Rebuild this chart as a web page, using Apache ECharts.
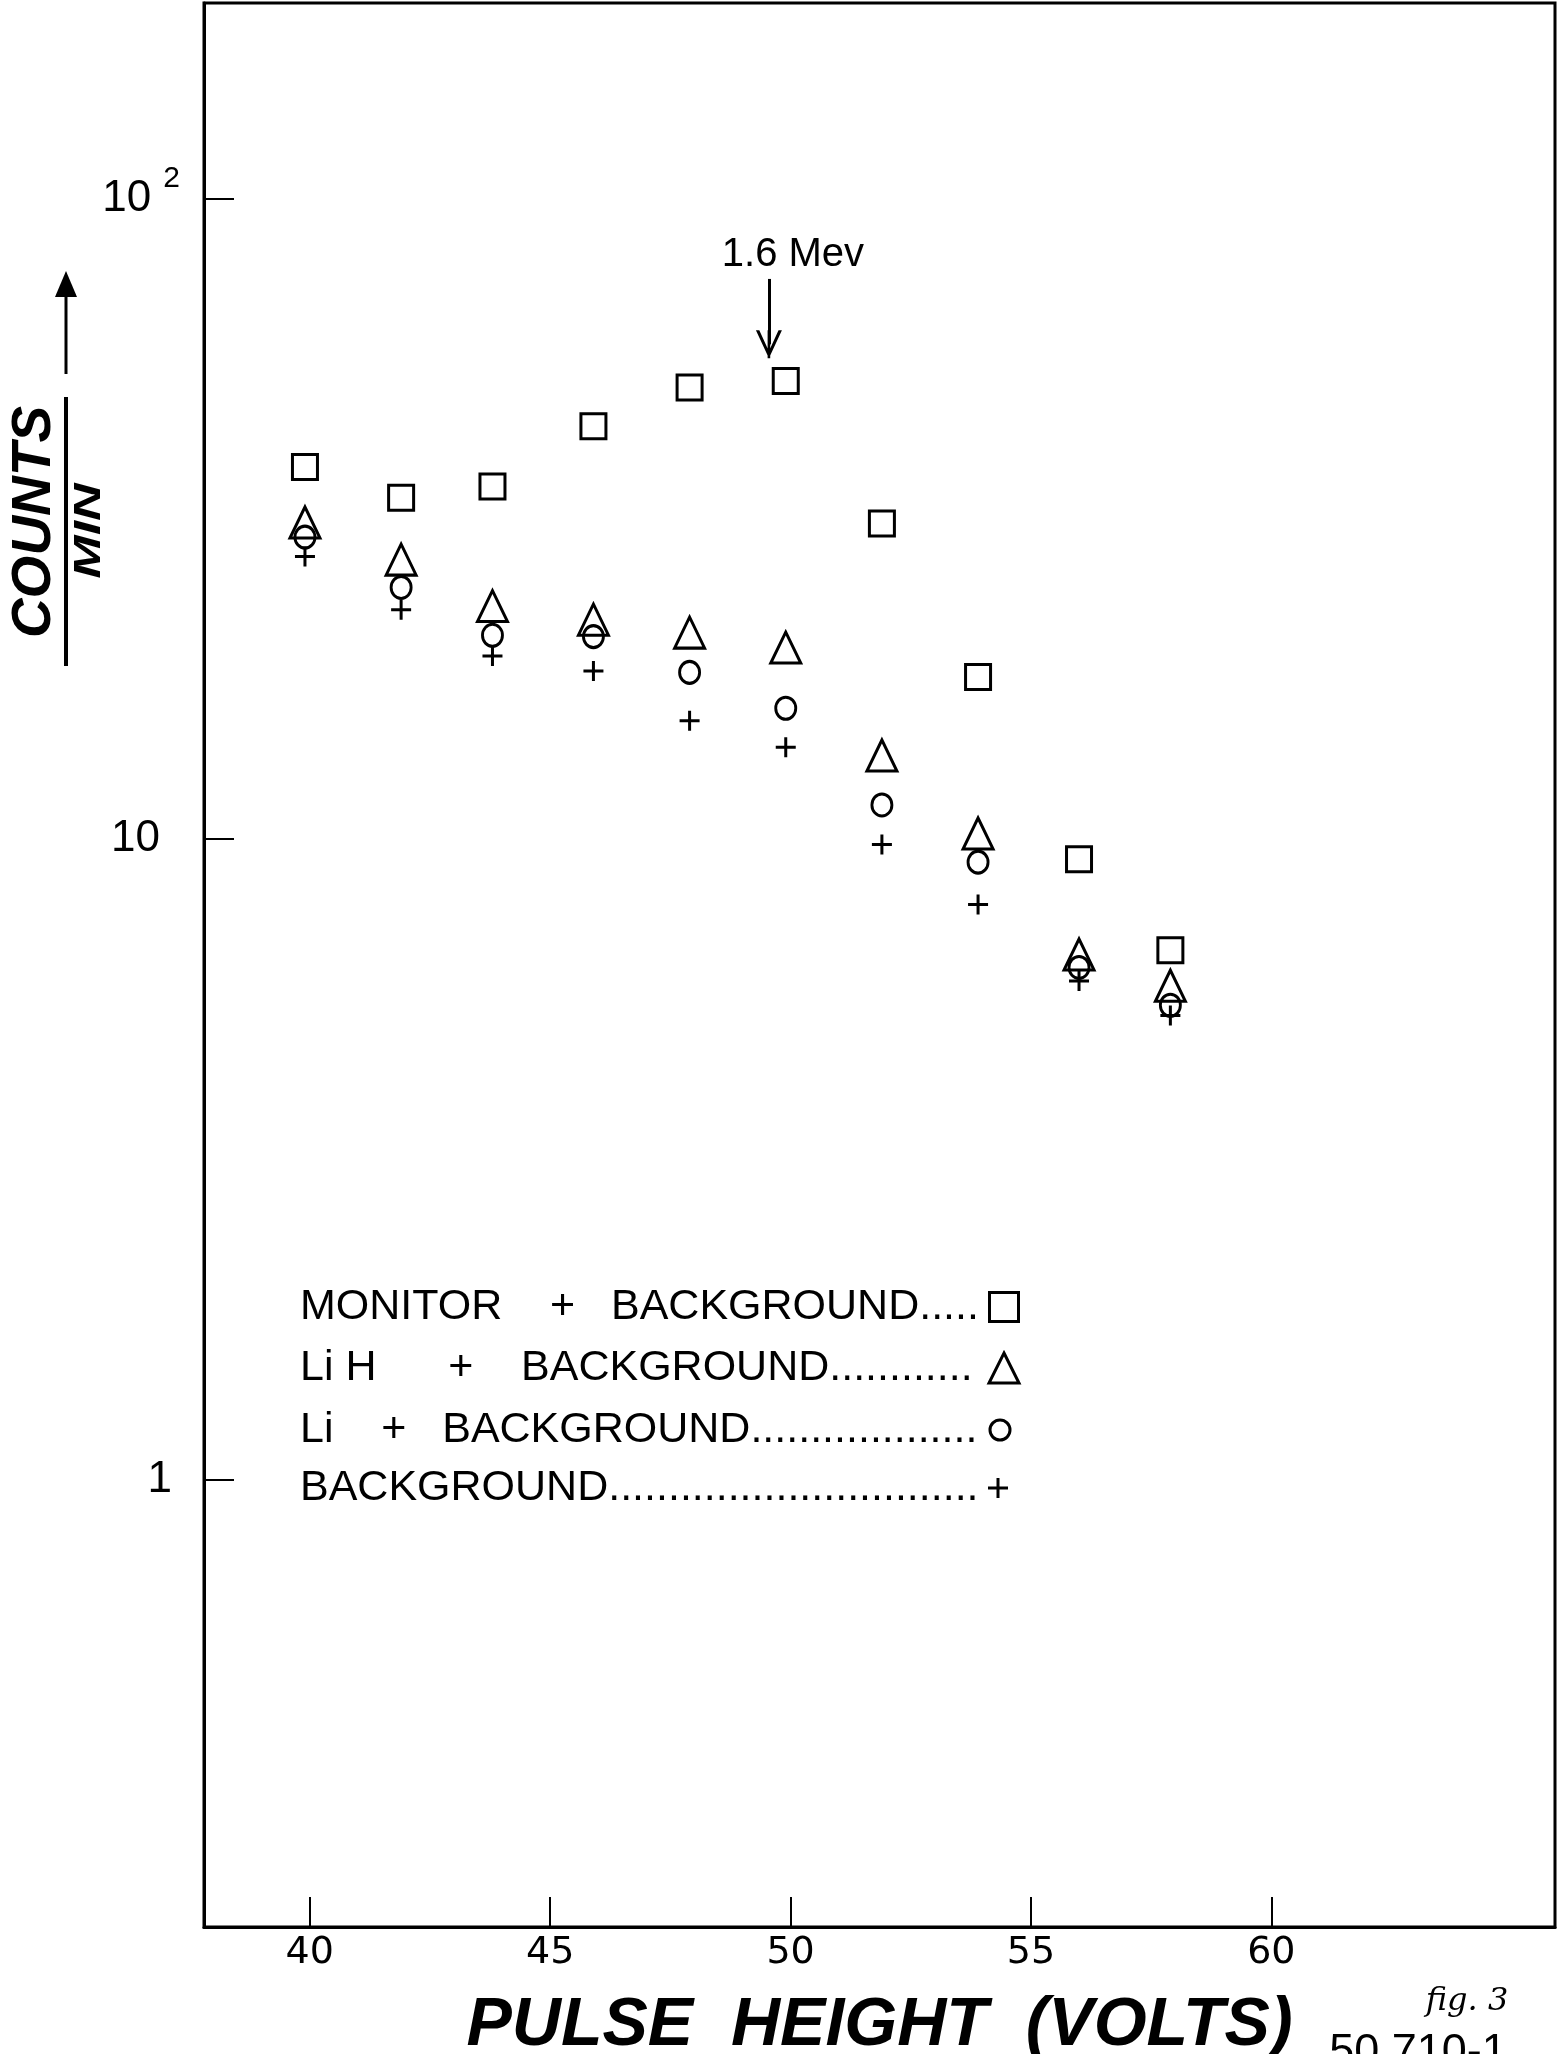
<!DOCTYPE html>
<html><head><meta charset="utf-8">
<script src="https://cdn.jsdelivr.net/npm/echarts@6/dist/echarts.min.js"></script>
<style>html,body{margin:0;padding:0;background:#fff}#c{width:1557px;height:2054px}</style>
</head><body><div id="c"></div>
<script>
// ---- data ----
const pulseHeight   = [39.9, 41.9, 43.8, 45.9, 47.9, 49.9, 51.9, 53.9, 56.0, 57.9];
const monitorCounts = [38.1, 34.1, 35.5, 44.1, 50.7, 51.9, 31.1, 17.9, 9.3, 6.7];
const lihCounts     = [31.2, 27.3, 23.1, 22.0, 21.0, 19.9, 13.5, 10.2, 6.6, 5.9];
const liCounts      = [29.6, 24.7, 20.8, 20.7, 18.2, 16.0, 11.3, 9.2, 6.3, 5.5];
const bgCounts      = [27.6, 22.8, 19.3, 18.3, 15.3, 13.9, 9.8, 7.9, 6.0, 5.3];
const xTicks = [40, 45, 50, 55, 60];
const yTicks = [1, 10, 100];
const seriesNames  = ['MONITOR + BACKGROUND', 'LiH + BACKGROUND', 'Li + BACKGROUND', 'BACKGROUND'];
const legendLabels = ['MONITOR    +   BACKGROUND', 'Li H      +    BACKGROUND', 'Li    +   BACKGROUND', 'BACKGROUND'];
const peakLabel = '1.6 Mev';
const peakArrowX = 49.55;
const peakArrowFrom = 74.9;
const peakArrowTo = 59.2;

// ---- styling ----
const dataSets = [monitorCounts, lihCounts, liCounts, bgCounts];
const plusPath = 'path://M0,10L20,10M10,0L10,20';
const symbols = ['rect', 'triangle', 'circle', plusPath];
const symbolSizes = [25, [30, 31], [20, 22], 20];
const legendIconSize = [[29, 29], [30, 30], [20, 22], [20, 20]];
const legendIconCx = [1004, 1004, 1000, 998];
const legendRowY = [1307, 1368, 1430, 1488];
const legendFont = '43px "Liberation Sans"';
const legendTextLeft = 300;
const hollow = {color: 'rgba(0,0,0,0)', borderColor: '#000', borderWidth: 3, opacity: 1};
const vArrow = 'path://M0,30L10,0L20,30L17.4,30L10,7.5L2.6,30Z M9,0L11,0L11,30L9,30Z';

// measure dot leaders so each legend line fills up to its symbol
const mctx = document.createElement('canvas').getContext('2d');
mctx.font = legendFont;
const dotW = mctx.measureText('.').width;

const chart = echarts.init(document.getElementById('c'), null, {renderer: 'canvas'});

const series = seriesNames.map((n, i) => ({
  name: n,
  type: 'scatter',
  symbol: symbols[i],
  symbolSize: symbolSizes[i],
  itemStyle: hollow,
  emphasis: {disabled: true},
  data: pulseHeight.map((x, j) => [x, dataSets[i][j]])
}));
series[0].markLine = {
  silent: true,
  symbol: ['none', vArrow],
  symbolSize: [26, 28],
  lineStyle: {color: '#000', width: 3, type: 'solid', opacity: 1},
  label: {
    show: true, position: 'start', formatter: peakLabel, distance: 4,
    fontFamily: 'Liberation Sans', fontSize: 40, color: '#000', padding: [0, 0, 0, 48]
  },
  emphasis: {disabled: true},
  data: [[{coord: [peakArrowX, peakArrowFrom]}, {coord: [peakArrowX, peakArrowTo]}]]
};

const legends = seriesNames.map((n, i) => {
  const W = legendIconCx[i] - legendTextLeft - 5 - legendIconSize[i][0] / 2;
  const labelW = mctx.measureText(legendLabels[i]).width;
  const nDots = Math.max(0, Math.floor((W - labelW - 2) / dotW));
  const text = legendLabels[i] + '.'.repeat(nDots);
  return {
    data: [n],
    selectedMode: false,
    orient: 'horizontal',
    align: 'right',
    left: legendTextLeft - 5,
    top: legendRowY[i] - 22 - 5,
    padding: 5,
    itemWidth: legendIconSize[i][0],
    itemHeight: legendIconSize[i][1],
    itemStyle: {color: 'rgba(0,0,0,0)', borderColor: '#000', borderWidth: 3, opacity: 1},
    textStyle: {
      fontFamily: 'Liberation Sans', fontSize: 43, color: '#000', lineHeight: 44,
      rich: {t: {width: W, align: 'left', fontFamily: 'Liberation Sans', fontSize: 43, lineHeight: 44, color: '#000'}}
    },
    formatter: () => '{t|' + text + '}'
  };
});

const option = {
  animation: false,
  backgroundColor: '#fff',
  grid: {left: 204, right: 2, top: 3, bottom: 127, show: true, borderColor: '#000', borderWidth: 3,
         containLabel: false, outerBoundsMode: 'none'},
  xAxis: {
    type: 'value', min: 37.8, max: 65.9,
    axisLine: {show: true, onZero: false, lineStyle: {color: '#000', width: 3}},
    axisTick: {show: true, inside: true, length: 30, lineStyle: {color: '#000', width: 2}, customValues: xTicks},
    axisLabel: {customValues: xTicks, margin: 7, fontFamily: 'DejaVu Sans', fontSize: 38, color: '#000'},
    splitLine: {show: false},
    name: 'PULSE  HEIGHT  (VOLTS)', nameLocation: 'middle', nameGap: 65,
    nameTextStyle: {fontFamily: 'Liberation Sans', fontSize: 68, fontStyle: 'italic', fontWeight: 'bold', color: '#000'}
  },
  yAxis: {
    type: 'log', logBase: 10, min: 0.2, max: 202,
    axisLine: {show: true, lineStyle: {color: '#000', width: 3}},
    axisTick: {show: true, inside: true, length: 30, lineStyle: {color: '#000', width: 2}, customValues: yTicks},
    minorTick: {show: false},
    splitLine: {show: false},
    axisLabel: {
      customValues: yTicks, margin: 24,
      formatter: v => {
        const r = Math.round(v);
        if (r === 100) return '{n|10}{s|2}';
        if (r === 1) return '{o|1}';
        return '{m|' + r + '}';
      },
      rich: {
        n: {fontFamily: 'Liberation Sans', fontSize: 44, lineHeight: 70, color: '#000'},
        s: {fontFamily: 'Liberation Sans', fontSize: 30, lineHeight: 30, verticalAlign: 'top', padding: [0, 0, 0, 12], color: '#000'},
        m: {fontFamily: 'Liberation Sans', fontSize: 44, lineHeight: 44, padding: [0, 20, 0, 0], color: '#000'},
        o: {fontFamily: 'Liberation Sans', fontSize: 44, lineHeight: 44, padding: [0, 8, 0, 0], color: '#000'}
      }
    }
  },
  legend: legends,
  graphic: [
    {type: 'text', x: 35, y: 522, rotation: Math.PI / 2,
     style: {text: 'COUNTS', font: 'italic bold 55px "Liberation Sans"', fill: '#000',
             align: 'center', verticalAlign: 'middle', textAlign: 'center', textVerticalAlign: 'middle'}},
    {type: 'line', shape: {x1: 66, y1: 397, x2: 66, y2: 666}, style: {stroke: '#000', lineWidth: 4}},
    {type: 'text', x: 90, y: 531, rotation: Math.PI / 2, scaleX: 1.3, scaleY: 0.9,
     style: {text: 'MIN', font: 'italic bold 40px "Liberation Sans"', fill: '#000',
             align: 'center', verticalAlign: 'middle', textAlign: 'center', textVerticalAlign: 'middle'}},
    {type: 'line', shape: {x1: 66, y1: 374, x2: 66, y2: 292}, style: {stroke: '#000', lineWidth: 3}},
    {type: 'polygon', shape: {points: [[66, 271], [55, 297], [77, 297]]}, style: {fill: '#000'}},
    {type: 'text', x: 1467, y: 2002,
     style: {text: 'fig. 3', font: 'italic 32px "DejaVu Serif"', fill: '#000',
             align: 'center', verticalAlign: 'middle', textAlign: 'center', textVerticalAlign: 'middle'}},
    {type: 'text', x: 1418, y: 2030,
     style: {text: '50 710-1', font: '45px "Liberation Sans"', fill: '#000',
             align: 'center', verticalAlign: 'top', textAlign: 'center', textVerticalAlign: 'top'}}
  ],
  series: series
};
chart.setOption(option);
</script>
</body></html>
